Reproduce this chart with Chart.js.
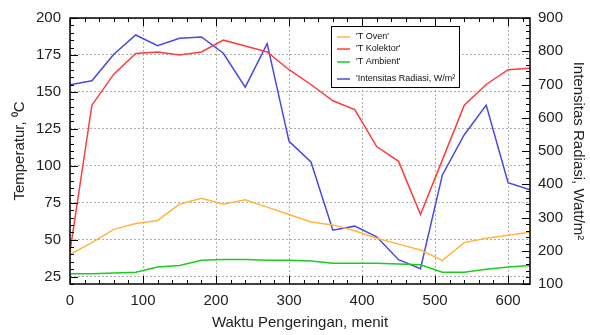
<!DOCTYPE html>
<html>
<head>
<meta charset="utf-8">
<script src="https://cdn.jsdelivr.net/npm/chart.js@4"></script>
<style>
  html, body { margin: 0; padding: 0; background: #fff; }
</style>
</head>
<body>
<canvas id="chart" width="590" height="335"></canvas>
<script>
// ---------- Data ----------
const times = [0, 30, 60, 90, 120, 150, 180, 210, 240, 270, 300, 330, 360, 390, 420, 450, 480, 510, 540, 570, 600, 630];
const tOven = [40, 48, 57, 61, 63, 74, 78, 74, 77, 72, 67, 62, 60, 56, 51, 47, 43, 36, 48, 51, 53, 55];
const tKolektor = [42, 141, 162, 176, 177, 175, 177, 185, 181, 177, 165, 155, 144, 138, 113, 103, 67, 104, 141, 155, 165, 166];
const tAmbient = [27, 27, 27.5, 28, 31.5, 32.5, 36, 36.5, 36.5, 36, 36, 35.5, 34, 34, 34, 33.5, 33, 28, 28, 30, 31.5, 32.5];
const radiasi = [699, 711, 791, 849, 817, 839, 843, 794, 692, 823, 529, 467, 262, 274, 242, 173, 146, 428, 549, 638, 405, 383];

const xTicks = [0, 100, 200, 300, 400, 500, 600];
const tempTicks = [25, 50, 75, 100, 125, 150, 175, 200];
const radTicks = [100, 200, 300, 400, 500, 600, 700, 800, 900];

const labels = ["'T Oven'", "'T Kolektor'", "'T Ambient'", "'Intensitas Radiasi, W/m\u00B2"];
const colors = ['#ffb540', '#ff3c3c', '#1ccc1c', '#4848e4'];

const pts = arr => arr.map((v, i) => ({ x: times[i], y: v }));

// ---------- Frame, inward ticks and boxed legend ----------
const frameTicks = {
  id: 'frameTicks',
  afterDatasetsDraw(chart) {
    const { ctx, chartArea: a, scales } = chart;
    ctx.save();
    ctx.strokeStyle = '#000';
    ctx.lineWidth = 1;
    ctx.beginPath();
    // left axis (temperature)
    for (let v = 20; v <= 200; v += 5) {
      const y = Math.round(scales.y.getPixelForValue(v)) + 0.5;
      const len = tempTicks.includes(v) ? 8 : 4;
      ctx.moveTo(a.left, y); ctx.lineTo(a.left + len, y);
    }
    // right axis (radiation)
    for (let v = 100; v <= 900; v += 20) {
      const y = Math.round(scales.y1.getPixelForValue(v)) + 0.5;
      const len = radTicks.includes(v) ? 8 : 4;
      ctx.moveTo(a.right, y); ctx.lineTo(a.right - len, y);
    }
    // bottom & top (time)
    for (let v = 0; v <= 630; v += 20) {
      const x = Math.round(scales.x.getPixelForValue(v)) + 0.5;
      const len = xTicks.includes(v) ? 8 : 4;
      ctx.moveTo(x, a.bottom); ctx.lineTo(x, a.bottom - len);
      ctx.moveTo(x, a.top); ctx.lineTo(x, a.top + len);
    }
    ctx.stroke();
    ctx.lineWidth = 1.5;
    ctx.strokeRect(a.left, a.top, a.right - a.left, a.bottom - a.top);

    // legend box
    const bx = 331.5, by = 26.5, bw = 128, bh = 61;
    ctx.fillStyle = '#fff';
    ctx.fillRect(bx, by, bw, bh);
    ctx.lineWidth = 1;
    ctx.strokeStyle = '#000';
    ctx.strokeRect(bx, by, bw, bh);
    const rows = [37, 49, 62, 79];
    ctx.font = '9px "Liberation Sans", Arial, sans-serif';
    ctx.textBaseline = 'middle';
    rows.forEach((ry, i) => {
      ctx.strokeStyle = colors[i];
      ctx.lineWidth = 1.5;
      ctx.beginPath();
      ctx.moveTo(337, ry); ctx.lineTo(350, ry);
      ctx.stroke();
      ctx.fillStyle = '#111';
      ctx.fillText(labels[i], 356, ry);
    });
    ctx.restore();
  }
};

// ---------- Chart ----------
const font = { family: '"Liberation Sans", Arial, sans-serif', size: 15 };
const ctx = document.getElementById('chart').getContext('2d');

const lineDs = (i, data, axis) => ({
  label: labels[i],
  data: pts(data),
  borderColor: colors[i],
  borderWidth: 1.5,
  pointRadius: 0,
  tension: 0,
  yAxisID: axis
});

new Chart(ctx, {
  type: 'line',
  data: {
    datasets: [
      lineDs(0, tOven, 'y'),
      lineDs(1, tKolektor, 'y'),
      lineDs(2, tAmbient, 'y'),
      lineDs(3, radiasi, 'y1')
    ]
  },
  options: {
    responsive: false,
    animation: false,
    layout: { padding: { top: 15, left: 0, right: 0, bottom: 0 } },
    plugins: { legend: { display: false }, tooltip: { enabled: false } },
    scales: {
      x: {
        type: 'linear', min: 0, max: 630,
        afterBuildTicks: s => { s.ticks = xTicks.map(v => ({ value: v })); },
        afterFit: s => { s.height = 51; },
        grid: { color: '#b0b0b0', drawTicks: false, lineWidth: 1 },
        border: { display: false, dash: [2, 2] },
        ticks: { color: '#222', font, padding: 8, maxRotation: 0 },
        title: { display: true, text: 'Waktu Pengeringan, menit', color: '#222', font, padding: { top: 0, bottom: 3 } }
      },
      y: {
        type: 'linear', position: 'left', min: 20, max: 200,
        afterBuildTicks: s => { s.ticks = tempTicks.map(v => ({ value: v })); },
        afterFit: s => { s.width = 70; },
        grid: { color: '#b0b0b0', drawTicks: false, lineWidth: 1 },
        border: { display: false, dash: [2, 2] },
        ticks: { color: '#222', font, padding: 9 },
        title: { display: true, text: 'Temperatur, \u2070C', color: '#222', font, padding: { top: 11, bottom: 0 } }
      },
      y1: {
        type: 'linear', position: 'right', min: 100, max: 900,
        afterBuildTicks: s => { s.ticks = radTicks.map(v => ({ value: v })); },
        afterFit: s => { s.width = 60; },
        grid: { display: false, drawTicks: false },
        border: { display: false },
        ticks: { color: '#222', font, padding: 8 },
        title: { display: true, text: 'Intensitas Radiasi, Watt/m\u00B2', color: '#222', font, padding: { top: 3, bottom: 0 } }
      }
    }
  },
  plugins: [frameTicks]
});
</script>
</body>
</html>
